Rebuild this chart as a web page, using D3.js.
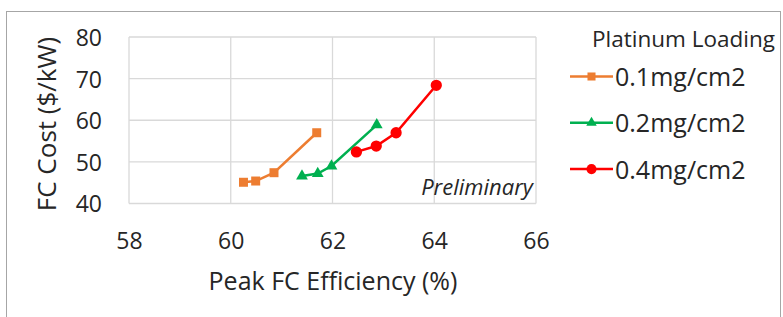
<!DOCTYPE html>
<html>
<head>
<meta charset="utf-8">
<script src="https://cdn.jsdelivr.net/npm/d3@7"></script>
<style>
  body { margin: 0; background: white; }
  svg text { font-family: "Open Sans", sans-serif; fill: #262626; }
</style>
</head>
<body>
<div id="chart"></div>
<script>
var seriesNames = ["0.1mg/cm2", "0.2mg/cm2", "0.4mg/cm2"];
var effLow = [60.25, 60.49, 60.85, 61.69];
var costLow = [45.1, 45.4, 47.4, 57.0];
var effMid = [61.40, 61.71, 61.98, 62.87];
var costMid = [46.6, 47.2, 49.0, 58.9];
var effHigh = [62.47, 62.86, 63.25, 64.04];
var costHigh = [52.4, 53.8, 57.0, 68.4];
var xTicks = [58, 60, 62, 64, 66];
var yTicks = [40, 50, 60, 70, 80];

var colors = ["#ED7D31", "#00B050", "#FF0000"];
var symbols = [d3.symbolSquare, d3.symbolTriangle, d3.symbolCircle];
var symSizes = [81, 60, 100];

var series = [
  { name: seriesNames[0], x: effLow, y: costLow },
  { name: seriesNames[1], x: effMid, y: costMid },
  { name: seriesNames[2], x: effHigh, y: costHigh }
];

var W = 783, H = 317;
var svg = d3.select("#chart").append("svg")
  .attr("width", W)
  .attr("height", H);

// outer chart frame
svg.append("rect")
  .attr("x", 6.5).attr("y", 11.5)
  .attr("width", 774).attr("height", 320)
  .attr("fill", "white")
  .attr("stroke", "#a6a6a6");

var x = d3.scaleLinear().domain([58, 66]).range([129, 536]);
var y = d3.scaleLinear().domain([40, 80]).range([203.5, 37]);

// grid
svg.selectAll(".vgrid").data(xTicks).enter().append("line")
  .attr("x1", d => x(d)).attr("x2", d => x(d))
  .attr("y1", y(80)).attr("y2", y(40))
  .attr("stroke", "#d9d9d9").attr("stroke-width", 1.3);

svg.selectAll(".hgrid").data(yTicks).enter().append("line")
  .attr("x1", x(58)).attr("x2", x(66))
  .attr("y1", d => y(d)).attr("y2", d => y(d))
  .attr("stroke", "#d9d9d9").attr("stroke-width", 1.3);

// axes labels
var xAxis = svg.append("g")
  .attr("transform", "translate(0,233)")
  .call(d3.axisBottom(x).tickValues(xTicks).tickSize(0).tickPadding(0));
xAxis.select(".domain").remove();
xAxis.selectAll("text").style("font-size", "23px").attr("fill", "#262626");

var yAxis = svg.append("g")
  .attr("transform", "translate(102,1)")
  .call(d3.axisLeft(y).tickValues(yTicks).tickSize(0).tickPadding(0));
yAxis.select(".domain").remove();
yAxis.selectAll("text").style("font-size", "23px").attr("fill", "#262626");

svg.append("text")
  .attr("x", 333).attr("y", 290)
  .attr("text-anchor", "middle")
  .style("font-size", "25px")
  .text("Peak FC Efficiency (%)");

svg.append("text")
  .attr("transform", "translate(56,124) rotate(-90)")
  .attr("text-anchor", "middle")
  .style("font-size", "26px")
  .text("FC Cost ($/kW)");

svg.append("text")
  .attr("x", 533).attr("y", 195)
  .attr("text-anchor", "end")
  .style("font-size", "22px")
  .style("font-style", "italic")
  .text("Preliminary");

// series
var line = d3.line().x(d => x(d[0])).y(d => y(d[1]));
series.forEach(function (s, i) {
  var pts = s.x.map((v, j) => [v, s.y[j]]);
  svg.append("path")
    .datum(pts)
    .attr("d", line)
    .attr("fill", "none")
    .attr("stroke", colors[i])
    .attr("stroke-width", 2.5);
  svg.selectAll(".pt" + i).data(pts).enter().append("path")
    .attr("transform", d => "translate(" + x(d[0]) + "," + y(d[1]) + ")")
    .attr("d", d3.symbol().type(symbols[i]).size(symSizes[i]))
    .attr("fill", colors[i]);
});

// legend
svg.append("text")
  .attr("x", 592).attr("y", 47)
  .style("font-size", "22.5px")
  .text("Platinum Loading");

var leg = svg.selectAll(".leg").data(series).enter().append("g")
  .attr("transform", (d, i) => "translate(570," + (76.5 + i * 46.3) + ")");
leg.append("line")
  .attr("x1", 0).attr("x2", 43)
  .attr("stroke", (d, i) => colors[i])
  .attr("stroke-width", 2.5);
leg.append("path")
  .attr("transform", "translate(21.5,0)")
  .attr("d", (d, i) => d3.symbol().type(symbols[i]).size(symSizes[i] * 0.8)())
  .attr("fill", (d, i) => colors[i]);
leg.append("text")
  .attr("x", 45).attr("y", 9.5)
  .style("font-size", "25px")
  .text(d => d.name);
</script>
</body>
</html>
